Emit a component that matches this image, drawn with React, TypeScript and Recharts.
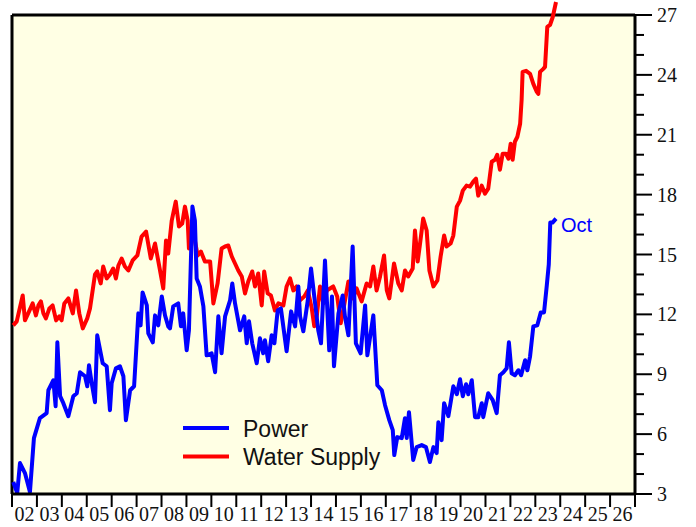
import React from "react";
import { LineChart, Line, XAxis, YAxis, CartesianGrid, ReferenceLine, Legend } from "recharts";

// fractional years
const powerYears = [
  2002.05, 2002.21, 2002.32, 2002.52, 2002.72, 2002.88, 2003.12, 2003.39, 2003.46, 2003.66,
  2003.75, 2003.82, 2003.93, 2004.06, 2004.26, 2004.46, 2004.6, 2004.73, 2004.93, 2005.02,
  2005.09, 2005.2, 2005.33, 2005.42, 2005.64, 2005.8, 2005.93, 2006.0, 2006.17, 2006.33,
  2006.47, 2006.57, 2006.74, 2006.9, 2007.07, 2007.16, 2007.24, 2007.41, 2007.47, 2007.65,
  2007.74, 2007.87, 2008.01, 2008.14, 2008.27, 2008.34, 2008.47, 2008.67, 2008.78, 2008.87,
  2009.01, 2009.1, 2009.24, 2009.34, 2009.41, 2009.54, 2009.68, 2009.81, 2010.01, 2010.15,
  2010.28, 2010.41, 2010.55, 2010.75, 2010.84, 2010.95, 2011.15, 2011.32, 2011.42, 2011.51,
  2011.64, 2011.82, 2011.95, 2012.08, 2012.15, 2012.28, 2012.42, 2012.53, 2012.66, 2012.79,
  2013.02, 2013.2, 2013.36, 2013.49, 2013.56, 2013.69, 2013.87, 2014.0, 2014.13, 2014.29,
  2014.4, 2014.56, 2014.73, 2014.84, 2014.92, 2015.1, 2015.27, 2015.36, 2015.5, 2015.67,
  2015.8, 2015.99, 2016.17, 2016.26, 2016.5, 2016.66, 2016.84, 2016.97, 2017.14, 2017.28,
  2017.34, 2017.46, 2017.64, 2017.77, 2017.84, 2017.93, 2018.1, 2018.24, 2018.44, 2018.61,
  2018.77, 2018.91, 2019.04, 2019.11, 2019.24, 2019.34, 2019.51, 2019.71, 2019.85, 2019.98,
  2020.09, 2020.22, 2020.31, 2020.45, 2020.58, 2020.71, 2020.85, 2020.91, 2021.11, 2021.29,
  2021.45, 2021.58, 2021.72, 2021.85, 2021.94, 2022.05, 2022.18, 2022.32, 2022.43, 2022.59,
  2022.68, 2022.79, 2022.92, 2023.08, 2023.22, 2023.35, 2023.46, 2023.54, 2023.6, 2023.69,
  2023.83,
];
const powerValues = [
  3.6, 3.05, 4.55, 4.05, 3.1, 5.8, 6.8, 7.05, 8.2, 8.7,
  7.4, 10.6, 7.9, 7.55, 6.9, 7.9, 8.05, 9.1, 8.9, 8.4,
  9.45, 8.55, 7.6, 10.95, 9.55, 9.4, 7.2, 8.55, 9.3, 9.4,
  8.9, 6.7, 8.2, 8.4, 12.05, 11.45, 13.1, 12.45, 11.05, 10.6,
  11.95, 11.45, 12.9, 11.95, 11.4, 11.3, 12.4, 12.55, 11.4, 12.05,
  10.2, 11.2, 17.4, 16.7, 13.8, 13.4, 12.4, 9.95, 10.05, 9.1,
  11.9, 10.05, 11.9, 12.7, 13.55, 12.55, 11.2, 11.9, 10.55, 11.65,
  10.55, 9.55, 10.8, 10.05, 10.7, 9.65, 10.95, 10.55, 12.2, 12.3,
  10.15, 12.15, 11.4, 13.4, 11.9, 11.15, 12.7, 14.3, 12.9, 11.2,
  10.55, 14.7, 10.2, 12.9, 9.4, 12.05, 12.95, 11.9, 10.95, 15.4,
  10.55, 10.05, 12.45, 9.95, 11.95, 8.45, 8.2, 7.45, 6.7, 6.2,
  4.95, 5.85, 5.8, 6.8, 5.8, 7.1, 4.7, 5.35, 5.45, 5.35,
  4.6, 5.35, 5.05, 6.6, 5.7, 7.55, 6.9, 8.4, 8.0, 8.75,
  7.9, 8.5, 8.0, 8.7, 6.85, 6.85, 7.55, 6.85, 8.05, 7.7,
  7.05, 8.95, 9.1, 9.3, 10.6, 9.05, 8.95, 9.2, 8.95, 9.7,
  9.2, 9.9, 11.4, 11.45, 12.1, 12.1, 13.45, 14.5, 16.6, 16.6,
  16.8,
];

const waterYears = [
  2002.05, 2002.19, 2002.43, 2002.52, 2002.65, 2002.83, 2002.96, 2003.06, 2003.16, 2003.26,
  2003.36, 2003.5, 2003.63, 2003.77, 2003.9, 2003.99, 2004.1, 2004.26, 2004.44, 2004.57,
  2004.7, 2004.84, 2005.02, 2005.13, 2005.33, 2005.42, 2005.56, 2005.66, 2005.8, 2005.93,
  2006.06, 2006.17, 2006.27, 2006.4, 2006.53, 2006.67, 2006.84, 2007.03, 2007.2, 2007.38,
  2007.57, 2007.74, 2007.91, 2008.07, 2008.18, 2008.27, 2008.41, 2008.57, 2008.7, 2008.83,
  2008.94, 2009.05, 2009.1, 2009.21, 2009.34, 2009.45, 2009.58, 2009.74, 2009.95, 2010.08,
  2010.25, 2010.41, 2010.55, 2010.68, 2010.82, 2010.95, 2011.08, 2011.22, 2011.35, 2011.48,
  2011.64, 2011.75, 2011.88, 2012.02, 2012.12, 2012.26, 2012.39, 2012.55, 2012.69, 2012.89,
  2013.02, 2013.16, 2013.29, 2013.42, 2013.56, 2013.73, 2013.87, 2014.03, 2014.13, 2014.23,
  2014.36, 2014.49, 2014.63, 2014.89, 2015.05, 2015.19, 2015.32, 2015.5, 2015.67, 2015.83,
  2016.03, 2016.23, 2016.37, 2016.5, 2016.63, 2016.77, 2016.93, 2017.04, 2017.14, 2017.33,
  2017.5, 2017.64, 2017.77, 2017.9, 2018.08, 2018.17, 2018.28, 2018.37, 2018.5, 2018.64,
  2018.75, 2018.91, 2019.07, 2019.2, 2019.34, 2019.44, 2019.6, 2019.71, 2019.85, 2019.98,
  2020.09, 2020.24, 2020.38, 2020.51, 2020.62, 2020.71, 2020.85, 2020.98, 2021.11, 2021.25,
  2021.38, 2021.47, 2021.58, 2021.69, 2021.82, 2021.92, 2022.01, 2022.09, 2022.18, 2022.28,
  2022.39, 2022.45, 2022.49, 2022.63, 2022.79, 2022.92, 2023.06, 2023.12, 2023.19, 2023.32,
  2023.39, 2023.48, 2023.59, 2023.7, 2023.83,
];
const waterValues = [
  11.45, 11.65, 12.95, 11.7, 12.05, 12.55, 11.95, 12.45, 12.65, 12.05,
  11.8, 12.3, 12.45, 11.7, 11.9, 11.7, 12.55, 12.8, 12.05, 13.2,
  12.05, 11.3, 11.8, 12.3, 14.0, 14.15, 13.55, 14.4, 13.8, 14.0,
  14.3, 13.8, 14.45, 14.8, 14.4, 14.2, 14.7, 14.95, 15.9, 16.15,
  14.8, 15.55, 14.4, 13.3, 15.7, 15.05, 16.7, 17.65, 16.4, 16.55,
  17.4, 16.7, 15.3, 16.05, 15.7, 14.95, 15.15, 14.65, 14.65, 12.55,
  13.55, 15.3, 15.4, 15.45, 14.9, 14.55, 14.2, 13.9, 13.05, 13.65,
  14.15, 13.4, 14.05, 12.45, 14.15, 13.05, 12.95, 12.2, 12.55, 12.45,
  13.4, 13.8, 13.2, 13.4, 12.7, 12.9, 13.2, 12.3, 11.4, 11.9,
  13.4, 12.55, 13.2, 13.4, 12.9, 11.55, 12.4, 13.65, 12.8, 13.3,
  12.65, 13.55, 13.4, 14.4, 13.2, 13.9, 14.95, 13.2, 12.8, 14.55,
  13.55, 13.2, 14.2, 13.9, 14.3, 16.2, 14.65, 15.5, 16.8, 16.2,
  14.2, 13.4, 13.7, 14.9, 15.95, 15.4, 15.55, 15.95, 17.4, 17.7,
  18.2, 18.45, 18.4, 18.65, 18.8, 17.95, 18.45, 18.05, 18.3, 19.65,
  19.75, 20.0, 19.25, 20.05, 20.05, 19.8, 20.55, 19.75, 20.65, 20.9,
  21.55, 22.75, 24.15, 24.2, 24.05, 23.55, 23.15, 23.05, 24.15, 24.3,
  24.4, 26.4, 26.5, 26.9, 27.65,
];

const yearTicks = [
  2002, 2003, 2004, 2005, 2006, 2007, 2008, 2009, 2010, 2011, 2012, 2013, 2014,
  2015, 2016, 2017, 2018, 2019, 2020, 2021, 2022, 2023, 2024, 2025, 2026, 2027,
];
const valueTicks = [
  3, 4, 5, 6, 7, 8, 9, 10, 11, 12, 13, 14, 15, 16, 17, 18, 19, 20, 21, 22, 23, 24, 25, 26, 27,
];
const endLabel = "Oct";

const powerData = powerYears.map((t, i) => ({ t, v: powerValues[i] }));
const waterData = waterYears.map((t, i) => ({ t, v: waterValues[i] }));

const SERIF = "'Liberation Serif', 'Times New Roman', Times, serif";
const SANS = "'Liberation Sans', Arial, Helvetica, sans-serif";

function YearTick({ x, y, payload }: any) {
  const yr = payload.value as number;
  return (
    <g>
      <line x1={x} y1={y} x2={x} y2={y + 13} stroke="#000" strokeWidth={2} />
      {yr < 2027 && (
        <text x={x + 12.5} y={y + 27} textAnchor="middle" fontFamily={SERIF} fontSize={20} fill="#111">
          {String(yr % 100).padStart(2, "0")}
        </text>
      )}
    </g>
  );
}

function ValueTick({ x, y, payload }: any) {
  const v = payload.value as number;
  const major = v % 3 === 0;
  return (
    <g>
      <line x1={x} y1={y} x2={x + (major ? 17 : 9)} y2={y} stroke="#000" strokeWidth={2} />
      {major && (
        <text x={x + 22} y={y + 7} fontFamily={SERIF} fontSize={20} fill="#111">
          {v}
        </text>
      )}
    </g>
  );
}

function EndLabel(props: any) {
  const { x, y, index } = props;
  if (index !== powerData.length - 1) return <g />;
  return (
    <text x={x + 5} y={y + 13} fontFamily={SANS} fontSize={20} fill="#0000ff">
      {endLabel}
    </text>
  );
}

function LegendBox() {
  return (
    <svg width={220} height={60} style={{ display: "block", overflow: "visible" }}>
      <line x1={0} y1={14} x2={46} y2={14} stroke="#0000ff" strokeWidth={4} />
      <text x={60} y={22.5} fontFamily={SANS} fontSize={23} fill="#111">Power</text>
      <line x1={0} y1={42.5} x2={46} y2={42.5} stroke="#ff0000" strokeWidth={4} />
      <text x={60} y={51} fontFamily={SANS} fontSize={23} fill="#111">Water Supply</text>
    </svg>
  );
}

export default function App() {
  return (
    <div style={{ position: "absolute", left: 0, top: 0, width: 696, height: 527, background: "#fff" }}>
      {/* let the supply line run past the top frame like the original */}
      <style>{`.recharts-wrapper [clip-path]{clip-path:none !important}
.recharts-line,.recharts-line *,.recharts-line-curve{clip-path:none !important}
.recharts-surface{overflow:visible}`}</style>
      <LineChart width={696} height={527} margin={{ top: 15, right: 0, bottom: 0, left: 12 }}>
        <CartesianGrid horizontal={false} vertical={false} fill="#ffffe4" fillOpacity={1} />
        <XAxis
          type="number"
          dataKey="t"
          domain={[2002, 2027]}
          ticks={yearTicks}
          interval={0}
          height={33}
          tickSize={0}
          tickMargin={0}
          tickLine={false}
          tick={<YearTick />}
          axisLine={{ stroke: "#000", strokeWidth: 3 }}
          allowDataOverflow
        />
        <YAxis
          orientation="right"
          type="number"
          domain={[3, 27]}
          ticks={valueTicks}
          interval={0}
          width={61}
          tickSize={0}
          tickMargin={0}
          tickLine={false}
          tick={<ValueTick />}
          axisLine={{ stroke: "#000", strokeWidth: 3 }}
          allowDataOverflow
        />
        <ReferenceLine x={2002} stroke="#000" strokeWidth={3} />
        <ReferenceLine y={27} stroke="#000" strokeWidth={3} />
        <Line
          data={waterData}
          dataKey="v"
          name="Water Supply"
          stroke="#ff0000"
          strokeWidth={4}
          dot={false}
          type="linear"
          strokeLinejoin="round"
          isAnimationActive={false}
        />
        <Line
          data={powerData}
          dataKey="v"
          name="Power"
          stroke="#0000ff"
          strokeWidth={4}
          dot={false}
          type="linear"
          strokeLinejoin="round"
          label={EndLabel}
          isAnimationActive={false}
        />
        <Legend
          layout="vertical"
          align="center"
          verticalAlign="middle"
          wrapperStyle={{ left: 183, top: 414, width: 220, height: 60 }}
          content={() => <LegendBox />}
        />
      </LineChart>
    </div>
  );
}
